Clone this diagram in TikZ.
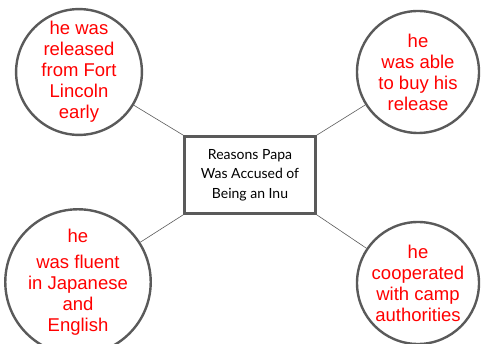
\documentclass[tikz,border=0pt]{standalone}
\usepackage{fontspec}
\setmainfont{Liberation Sans}
\newfontfamily\handfont{Lato}
\usetikzlibrary{positioning}
\definecolor{ringgray}{HTML}{5A5A5A}
\definecolor{textred}{HTML}{FF0000}

\begin{document}
\begin{tikzpicture}[x=1pt,y=-1pt,
  reason/.style={circle,draw=ringgray,line width=2.4pt,minimum size=122pt,inner sep=0pt,
    align=center,text=textred,font=\fontsize{18.5}{21}\selectfont},
  link/.style={draw=ringgray,line width=0.6pt}]
  \useasboundingbox (0,0) rectangle (481,344);
  \node[draw=ringgray,line width=2.8pt,minimum width=131pt,minimum height=77pt,align=center,
    font=\handfont\fontsize{14}{19.5}\selectfont] (topic) at (250,175)
    {Reasons Papa\\Was Accused of\\Being an Inu};
  \node[reason] (released) at (79,72) {he was\\released\\from Fort\\Lincoln\\early};
  \node[reason] (bought) at (418,72) {he\\was able\\to buy his\\release};
  \node[reason] (fluent) at (78,282) {he\\[5pt]was fluent\\in Japanese\\and\\English};
  \node[reason] (cooperated) at (418,283) {he\\cooperated\\with camp\\authorities};
  % spokes from the box corners
  \draw[link] (topic.north west) -- (released);
  \draw[link] (topic.north east) -- (bought);
  \draw[link] (topic.south west) -- (fluent);
  \draw[link] (topic.south east) -- (cooperated);
\end{tikzpicture}
\end{document}
